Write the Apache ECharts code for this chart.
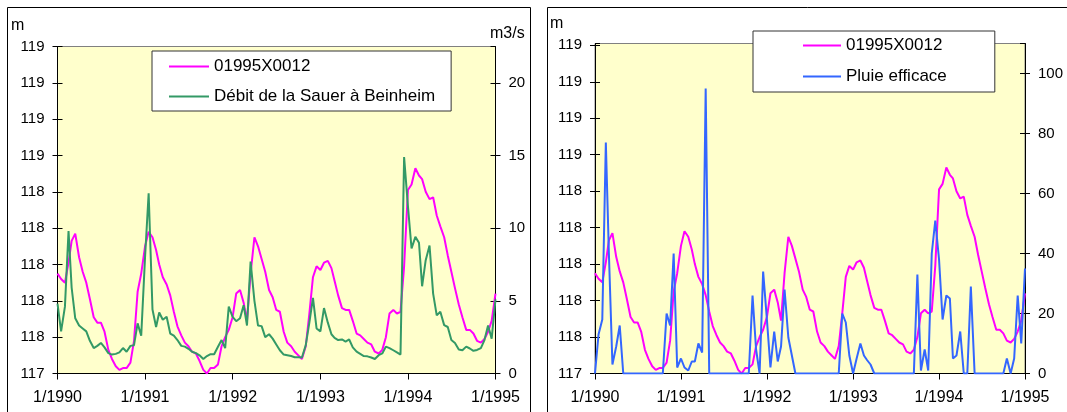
<!DOCTYPE html>
<html>
<head>
<meta charset="utf-8">
<script src="https://cdn.jsdelivr.net/npm/echarts@6/dist/echarts.min.js"></script>
<style>
html, body { margin: 0; padding: 0; background: #fff; }
#chart { width: 1067px; height: 412px; }
</style>
</head>
<body>
<div id="chart"></div>
<script>
// dates: 1st and 16th of every month, 1/1990 .. 1/1995
var dates = [];
for (var y = 1990; y < 1995; y++) {
	for (var mo = 0; mo < 12; mo++) {
		dates.push(new Date(y, mo, 1).getTime());
		dates.push(new Date(y, mo, 16).getTime());
	}
}
dates.push(new Date(1995, 0, 1).getTime());

var yearTicks = [1990, 1991, 1992, 1993, 1994, 1995].map(function (yr) {
	return new Date(yr, 0, 1).getTime();
});

// niveau piezometrique 01995X0012 (m)
var piezo = [
	117.95, 117.92, 117.90, 118.01, 118.13, 118.17, 118.04, 117.96, 117.90, 117.81,
	117.71, 117.68, 117.68, 117.63, 117.53, 117.48, 117.44, 117.42, 117.43, 117.43,
	117.46, 117.58, 117.85, 117.95, 118.10, 118.18, 118.15, 118.08, 118.00, 117.93,
	117.89, 117.83, 117.74, 117.66, 117.61, 117.57, 117.55, 117.52, 117.51, 117.47,
	117.42, 117.40, 117.43, 117.43, 117.45, 117.55, 117.60, 117.64, 117.71, 117.84,
	117.86, 117.79, 117.69, 117.95, 118.15, 118.10, 118.03, 117.96, 117.86, 117.82,
	117.75, 117.74, 117.63, 117.57, 117.55, 117.52, 117.50, 117.48, 117.55, 117.73,
	117.93, 117.99, 117.97, 118.01, 118.02, 117.98, 117.91, 117.83, 117.76, 117.75,
	117.75, 117.69, 117.62, 117.61, 117.59, 117.57, 117.56, 117.52, 117.51, 117.53,
	117.60, 117.73, 117.75, 117.73, 117.74, 117.99, 118.41, 118.44, 118.53, 118.49,
	118.47, 118.40, 118.36, 118.37, 118.27, 118.21, 118.15, 118.05, 117.96, 117.87,
	117.78, 117.71, 117.64, 117.64, 117.62, 117.58, 117.57, 117.59, 117.63, 117.69,
	117.84
];

// debit de la Sauer a Beinheim (m3/s)
var debit = [
	4.8, 2.9, 4.6, 9.8, 5.9, 3.8, 3.3, 3.1, 2.9, 2.25,
	1.75, 1.9, 2.1, 1.8, 1.4, 1.3, 1.35, 1.45, 1.75, 1.5,
	1.9, 1.95, 3.45, 2.6, 8.0, 12.4, 4.4, 3.2, 4.2, 3.7,
	3.9, 2.75, 2.6, 2.3, 1.9, 1.85, 1.7, 1.5, 1.4, 1.25,
	1.0, 1.2, 1.33, 1.33, 1.84, 2.3, 1.75, 4.6, 3.9, 3.6,
	3.8, 4.7, 3.3, 7.7, 5.0, 3.3, 3.26, 2.5, 2.7, 2.4,
	2.0, 1.6, 1.3, 1.26, 1.2, 1.12, 1.12, 1.1, 1.95, 3.5,
	5.2, 3.1, 2.9, 4.5, 3.5, 2.7, 2.45, 2.3, 2.34, 2.2,
	2.34, 1.8, 1.5, 1.35, 1.2, 1.18, 1.1, 1.0, 1.26, 1.38,
	1.85, 1.75, 1.6, 1.45, 1.3, 14.9, 11.5, 8.6, 9.4, 9.0,
	6.0, 7.8, 8.8, 5.5, 4.0, 4.25, 3.33, 3.2, 2.3, 2.1,
	1.65, 1.6, 1.85, 1.72, 1.56, 1.62, 1.75, 2.3, 3.3, 2.4,
	5.1
];

// pluie efficace
var pluie = [
	0, 13, 18, 77, 40, 3, 9, 16, 0, 0,
	0, 0, 0, 0, 0, 0, 0, 0, 0, 0,
	20, 16, 40, 2, 5, 2, 1, 4, 4, 10,
	7, 95, 0, 0, 0, 0, 0, 0, 0, 0,
	0, 0, 0, 0, 26, 8, 0, 34, 18, 2,
	14, 4, 9, 28, 12, 6, 0, 0, 0, 0,
	0, 0, 0, 0, 0, 0, 0, 0, 0, 20,
	17, 6, 0, 5, 10, 6, 4.5, 3, 0, 0,
	0, 0, 0, 0, 0, 0, 0, 0, 0, 0,
	33, 1, 8, 1, 40, 51, 38, 18, 26, 25,
	5, 6, 14, 0, 0, 29, 0, 0, 0, 0,
	0, 0, 0, 0, 0, 5, 0, 5, 26, 10,
	35
];

function pairs(vals) {
	return vals.map(function (v, i) { return [dates[i], v]; });
}

var black = '#000';
var font = 'Liberation Sans, Arial, sans-serif';

function roundLabel(v) {
	return Math.round(v);
}

// main axis (labels + outer ticks) and a twin carrying the inner half of the cross ticks
function yPair(grid, side, min, max, interval, fmt, showMax) {
	var main = {
		type: 'value', gridIndex: grid, position: side,
		min: min, max: max, interval: interval,
		splitLine: { show: false },
		axisLine: { show: true, lineStyle: { color: black, width: 1 } },
		axisTick: { show: true, length: 5, lineStyle: { color: black } },
		axisLabel: {
			color: black, fontSize: 15, fontFamily: font, margin: 13,
			formatter: fmt, showMaxLabel: showMax
		}
	};
	var twin = {
		type: 'value', gridIndex: grid, position: side,
		min: min, max: max, interval: interval,
		splitLine: { show: false },
		axisLine: { show: false },
		axisTick: { show: true, inside: true, length: 5, lineStyle: { color: black } },
		axisLabel: { show: false }
	};
	return [main, twin];
}

// x axis: a value axis on timestamps, ticks only on 1 January
function xAx(grid) {
	return {
		type: 'value', gridIndex: grid,
		min: yearTicks[0], max: yearTicks[5],
		splitLine: { show: false },
		axisLine: { show: true, lineStyle: { color: black } },
		axisTick: { show: true, length: 6, customValues: yearTicks, lineStyle: { color: black } },
		axisLabel: {
			customValues: yearTicks, color: black, fontSize: 16, fontFamily: font, margin: 16,
			showMinLabel: true, showMaxLabel: true,
			formatter: function (v) {
				var d = new Date(v);
				return (d.getMonth() + 1) + '/' + d.getFullYear();
			}
		}
	};
}

var l1 = yPair(0, 'left', 117.4, 119.2, 0.2, roundLabel, true);
var r1 = yPair(0, 'right', 0, 22.5, 5, null, false);
var l2 = yPair(1, 'left', 117.4, 119.21, 0.2, roundLabel, false);
var r2 = yPair(1, 'right', 0, 110, 20, null, false);

var legendBase = {
	orient: 'vertical',
	backgroundColor: '#fff',
	borderColor: '#333',
	borderWidth: 1,
	icon: 'rect',
	itemHeight: 2,
	itemStyle: { borderWidth: 0 },
	textStyle: { color: black, fontSize: 17, fontFamily: font }
};

var option = {
	animation: false,
	backgroundColor: '#fff',
	grid: [
		{ left: 57.5, top: 46.5, width: 438, height: 327, show: true,
			backgroundColor: '#FFFFCC', borderColor: '#808080', borderWidth: 1 },
		{ left: 595, top: 43.5, width: 430, height: 330, show: true,
			backgroundColor: '#FFFFCC', borderColor: '#808080', borderWidth: 1 }
	],
	xAxis: [xAx(0), xAx(1)],
	yAxis: [l1[0], r1[0], l1[1], r1[1], l2[0], r2[0], l2[1], r2[1]],
	legend: [
		Object.assign({}, legendBase, {
			left: 152, top: 51, itemWidth: 40, itemGap: 13,
			padding: [7, 16, 6, 17],
			data: ['01995X0012', 'Débit de la Sauer à Beinheim']
		}),
		Object.assign({}, legendBase, {
			left: 753, top: 31, itemWidth: 38, itemGap: 14,
			padding: [6, 48, 7, 50],
			data: ['01995X0012', 'Pluie efficace']
		})
	],
	series: [
		{ name: '01995X0012', type: 'line', xAxisIndex: 0, yAxisIndex: 0, symbol: 'none',
			data: pairs(piezo), color: '#FF00FF', lineStyle: { width: 2 } },
		{ name: 'Débit de la Sauer à Beinheim', type: 'line', xAxisIndex: 0, yAxisIndex: 1, symbol: 'none',
			data: pairs(debit), color: '#339966', lineStyle: { width: 2 } },
		{ name: '01995X0012', type: 'line', xAxisIndex: 1, yAxisIndex: 4, symbol: 'none',
			data: pairs(piezo), color: '#FF00FF', lineStyle: { width: 2 } },
		{ name: 'Pluie efficace', type: 'line', xAxisIndex: 1, yAxisIndex: 5, symbol: 'none',
			data: pairs(pluie), color: '#3366FF', lineStyle: { width: 2 } }
	],
	graphic: [
		{ type: 'rect', silent: true, shape: { x: 7.5, y: 7.5, width: 523, height: 430 },
			style: { fill: null, stroke: black, lineWidth: 1 } },
		{ type: 'rect', silent: true, shape: { x: 547.5, y: 7.5, width: 540, height: 430 },
			style: { fill: null, stroke: black, lineWidth: 1 } },
		{ type: 'text', left: 11, top: 18, style: { text: 'm', fill: black, font: '16px ' + font } },
		{ type: 'text', left: 490, top: 26, style: { text: 'm3/s', fill: black, font: '16px ' + font } },
		{ type: 'text', left: 550, top: 16, style: { text: 'm', fill: black, font: '16px ' + font } }
	]
};

var myChart = echarts.init(document.getElementById('chart'));
myChart.setOption(option);
</script>
</body>
</html>
